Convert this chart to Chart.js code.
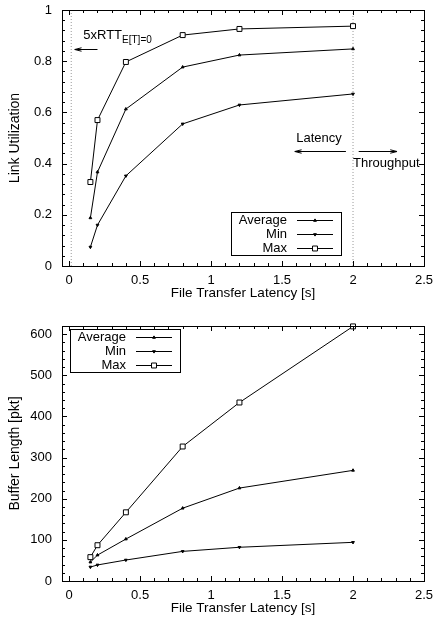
<!DOCTYPE html>
<html>
<head>
<meta charset="utf-8">
<script src="https://cdn.jsdelivr.net/npm/chart.js@4.4.0/dist/chart.umd.min.js"></script>
<style>
  body { margin: 0; background: #fff; }
  canvas { display: block; }
</style>
</head>
<body>
<canvas id="util" width="433" height="313"></canvas>
<canvas id="buf" width="433" height="313"></canvas>
<script>
// --- données ---
const latency = [0.15, 0.2, 0.4, 0.8, 1.2, 2];

const utilAvg = [0.188, 0.367, 0.613, 0.777, 0.824, 0.848];
const utilMin = [0.074, 0.160, 0.352, 0.555, 0.629, 0.672];
const utilMax = [0.328, 0.570, 0.797, 0.902, 0.926, 0.937];

const bufAvg = [46, 63, 102, 177, 226, 269];
const bufMin = [34, 39, 51, 72, 82, 94];
const bufMax = [58, 87, 167, 327, 434, 619];

const xTicks    = [0, 0.5, 1, 1.5, 2, 2.5];
const utilTicks = [0, 0.2, 0.4, 0.6, 0.8, 1];
const bufTicks  = [0, 100, 200, 300, 400, 500, 600];

const rttLine = 0.015;   // 5xRTT
const splitLine = 2;     // latency / throughput

Chart.defaults.font.family = '"Liberation Sans", Arial, Helvetica, sans-serif';
Chart.defaults.font.size = 13;
Chart.defaults.color = '#000';

const pts = arr => latency.map((x, i) => ({ x, y: arr[i] }));

function series(label, arr, style) {
  const base = {
    label, data: pts(arr), borderColor: '#000', borderWidth: 1,
    backgroundColor: '#000', pointBorderColor: '#000', pointBorderWidth: 1,
    pointHoverRadius: 0, clip: false, tension: 0
  };
  if (style === 'up')   return { ...base, pointStyle: 'triangle', pointRadius: 1.6 };
  if (style === 'down') return { ...base, pointStyle: 'triangle', pointRotation: 180, pointRadius: 1.6 };
  return { ...base, pointStyle: 'rect', pointRadius: 3.5, pointBackgroundColor: '#fff' };
}

function vline(x, ymax) {
  return {
    data: [{ x, y: 0 }, { x, y: ymax }], borderColor: '#999', borderWidth: 1,
    borderDash: [1, 2], pointRadius: 0, clip: false
  };
}

// --- cadre + graduations vers l'intérieur (style gnuplot) ---
function minors(major) {
  const out = [];
  for (let i = 0; i < major.length - 1; i++) {
    const step = (major[i + 1] - major[i]) / 5;
    for (let k = 1; k < 5; k++) out.push(major[i] + k * step);
  }
  return out;
}

const gnuFrame = {
  id: 'gnuFrame',
  afterDatasetsDraw(chart) {
    const { ctx, chartArea: a, scales: { x, y } } = chart;
    ctx.save();
    ctx.strokeStyle = '#000';
    ctx.lineWidth = 1;
    ctx.beginPath();
    const xv = (v, len) => {
      const p = Math.round(x.getPixelForValue(v)) + 0.5;
      ctx.moveTo(p, a.bottom); ctx.lineTo(p, a.bottom - len);
      ctx.moveTo(p, a.top); ctx.lineTo(p, a.top + len);
    };
    const yv = (v, len) => {
      const p = Math.round(y.getPixelForValue(v)) + 0.5;
      ctx.moveTo(a.left, p); ctx.lineTo(a.left + len, p);
      ctx.moveTo(a.right, p); ctx.lineTo(a.right - len, p);
    };
    x.ticks.forEach(t => xv(t.value, 5));
    minors(x.ticks.map(t => t.value)).forEach(v => xv(v, 3));
    y.ticks.forEach(t => yv(t.value, 5));
    minors(y.ticks.map(t => t.value)).forEach(v => yv(v, 3));
    ctx.stroke();
    ctx.strokeRect(Math.round(a.left) + 0.5, Math.round(a.top) + 0.5,
      Math.round(a.right - a.left), Math.round(a.bottom - a.top));
    ctx.restore();
  }
};

// --- légende à la gnuplot : texte aligné à droite, puis échantillon ---
const gnuLegend = {
  id: 'gnuLegend',
  afterDraw(chart, args, opts) {
    const { ctx, chartArea: a } = chart;
    const w = 110, h = 43;
    const left = opts.anchor === 'br' ? a.right - opts.dx - w : a.left + opts.dx;
    const top = opts.anchor === 'br' ? a.bottom - opts.dy - h : a.top + opts.dy;
    ctx.save();
    ctx.fillStyle = '#fff';
    ctx.fillRect(left, top, w, h);
    ctx.strokeStyle = '#000';
    ctx.lineWidth = 1;
    ctx.strokeRect(Math.round(left) + 0.5, Math.round(top) + 0.5, w, h);
    ctx.font = '13px "Liberation Sans", Arial, sans-serif';
    ctx.textAlign = 'right';
    ctx.textBaseline = 'middle';
    chart.data.datasets.filter(d => d.label).forEach((d, i) => {
      const yy = Math.round(top + 8 + i * 14) + 0.5;
      ctx.fillStyle = '#000';
      ctx.fillText(d.label, left + 56, yy);
      ctx.beginPath();
      ctx.moveTo(left + 66, yy); ctx.lineTo(left + 102, yy);
      ctx.stroke();
      ctx.fillStyle = d.pointBackgroundColor || '#000';
      Chart.helpers.drawPoint(ctx, {
        pointStyle: d.pointStyle, rotation: d.pointRotation || 0,
        radius: d.pointRadius, borderWidth: 1
      }, left + 84, yy);
    });
    ctx.restore();
  }
};

// --- annotations (coordonnées en unités des axes) ---
function arrow(ctx, x1, y1, x2, y2) {
  const ang = Math.atan2(y2 - y1, x2 - x1), L = 7, s = 0.25;
  ctx.beginPath();
  ctx.moveTo(x1, y1); ctx.lineTo(x2, y2);
  ctx.moveTo(x2 - L * Math.cos(ang - s), y2 - L * Math.sin(ang - s));
  ctx.lineTo(x2, y2);
  ctx.lineTo(x2 - L * Math.cos(ang + s), y2 - L * Math.sin(ang + s));
  ctx.stroke();
}

const notes = {
  id: 'notes',
  afterDraw(chart, args, opts) {
    if (!opts.items) return;
    const { ctx, scales: { x, y } } = chart;
    ctx.save();
    ctx.strokeStyle = '#000';
    ctx.fillStyle = '#000';
    ctx.lineWidth = 1;
    ctx.textBaseline = 'middle';
    ctx.textAlign = 'left';
    opts.items.forEach(it => {
      const px = x.getPixelForValue(it.x), py = y.getPixelForValue(it.y);
      if (it.to) {
        arrow(ctx, px, Math.round(py) + 0.5, x.getPixelForValue(it.to), Math.round(py) + 0.5);
      } else {
        ctx.font = '13px "Liberation Sans", Arial, sans-serif';
        ctx.fillText(it.text, px, py);
        if (it.sub) {
          const wMain = ctx.measureText(it.text).width;
          ctx.font = '10px "Liberation Sans", Arial, sans-serif';
          ctx.fillText(it.sub, px + wMain, py + 5);
        }
      }
    });
    ctx.restore();
  }
};

function makeChart(id, cfg) {
  return new Chart(document.getElementById(id), {
    type: 'line',
    data: { datasets: cfg.datasets },
    plugins: [gnuFrame, gnuLegend, notes],
    options: {
      responsive: false,
      animation: false,
      devicePixelRatio: 1,
      layout: { padding: { top: cfg.top, right: 9, left: 0, bottom: 0 } },
      plugins: {
        legend: { display: false },
        tooltip: { enabled: false },
        gnuLegend: cfg.legend,
        notes: { items: cfg.notes || null }
      },
      scales: {
        x: {
          type: 'linear', min: -0.05, max: 2.5,
          afterBuildTicks: s => { s.ticks = xTicks.map(v => ({ value: v })); },
          afterFit: s => { s.height = cfg.xHeight; s.paddingLeft = 0; s.paddingRight = 0; },
          grid: { display: false, drawTicks: false },
          border: { display: false },
          ticks: { padding: 7, maxRotation: 0, callback: v => String(v) },
          title: {
            display: true, text: 'File Transfer Latency [s]',
            font: { size: 13.5 }, padding: { top: 0, bottom: cfg.xTitlePad }
          }
        },
        y: {
          type: 'linear', min: 0, max: cfg.ymax,
          afterBuildTicks: s => { s.ticks = cfg.yTicks.map(v => ({ value: v })); },
          afterFit: s => { s.width = 62; s.paddingTop = 0; s.paddingBottom = 0; },
          grid: { display: false, drawTicks: false },
          border: { display: false },
          ticks: { padding: 10, callback: v => String(v) },
          title: {
            display: true, text: cfg.yTitle,
            font: { size: 14 }, padding: { top: 7, bottom: 0 }
          }
        }
      }
    }
  });
}

makeChart('util', {
  top: 10, xHeight: 47, xTitlePad: 12, ymax: 1, yTicks: utilTicks,
  yTitle: 'Link Utilization',
  legend: { anchor: 'br', dx: 83, dy: 11 },
  datasets: [
    series('Average', utilAvg, 'up'),
    series('Min', utilMin, 'down'),
    series('Max', utilMax, 'square'),
    vline(rttLine, 1),
    vline(splitLine, 1)
  ],
  notes: [
    { x: 0.1, y: 0.9, text: '5xRTT', sub: 'E[T]=0' },
    { x: 0.2, y: 0.848, to: 0.04 },
    { x: 1.6, y: 0.5, text: 'Latency' },
    { x: 1.95, y: 0.45, to: 1.59 },
    { x: 2.04, y: 0.45, to: 2.31 },
    { x: 2.0, y: 0.40, text: 'Throughput' }
  ]
});

makeChart('buf', {
  top: 13, xHeight: 45, xTitlePad: 10, ymax: 620, yTicks: bufTicks,
  yTitle: 'Buffer Length [pkt]',
  legend: { anchor: 'tl', dx: 8, dy: 3 },
  datasets: [
    series('Average', bufAvg, 'up'),
    series('Min', bufMin, 'down'),
    series('Max', bufMax, 'square')
  ]
});
</script>
</body>
</html>
